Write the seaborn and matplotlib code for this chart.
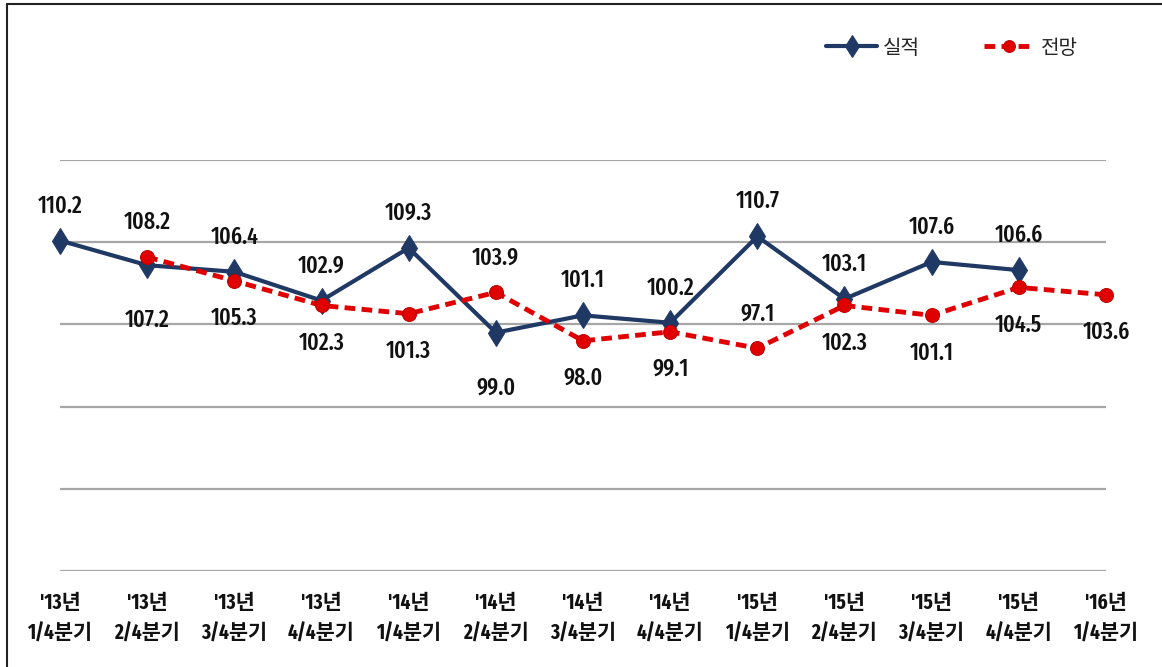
import matplotlib
matplotlib.use('Agg')
import matplotlib.pyplot as plt
from matplotlib.lines import Line2D
import seaborn as sns
import numpy as np
import pandas as pd

# Chart data
years = ["'13년", "'13년", "'13년", "'13년", "'14년", "'14년", "'14년", "'14년",
         "'15년", "'15년", "'15년", "'15년", "'16년"]
quarters = ['1/4분기', '2/4분기', '3/4분기', '4/4분기', '1/4분기', '2/4분기', '3/4분기',
            '4/4분기', '1/4분기', '2/4분기', '3/4분기', '4/4분기', '1/4분기']
actual = [110.2, 107.2, 106.4, 102.9, 109.3, 99.0, 101.1, 100.2, 110.7, 103.1, 107.6, 106.6, np.nan]
forecast = [np.nan, 108.2, 105.3, 102.3, 101.3, 103.9, 98.0, 99.1, 97.1, 102.3, 101.1, 104.5, 103.6]

# which side of the point each value label sits on (1 = above, -1 = below)
actual_side = [1, -1, 1, 1, 1, -1, 1, 1, 1, 1, 1, 1, 0]
forecast_side = [0, 1, -1, -1, -1, 1, -1, -1, 1, -1, -1, -1, -1]

NAVY = '#1f3864'
RED = '#e00000'
NUM_FONT = ['Fira Sans Extra Condensed', 'Noto Sans CJK KR', 'DejaVu Sans']

sns.set_theme(style='white')
plt.rcParams['font.family'] = NUM_FONT

df = pd.DataFrame({'idx': range(len(years)), 'actual': actual, 'forecast': forecast})

fig = plt.figure(figsize=(11.62, 6.67), dpi=100)
ax = fig.add_axes([60 / 1162, 1 - 571 / 667, 1046 / 1162, 411 / 667])

sns.lineplot(data=df, x='idx', y='actual', ax=ax, color=NAVY, linewidth=3,
             marker='d', markersize=13, markeredgecolor=NAVY, label='실적')
sns.lineplot(data=df, x='idx', y='forecast', ax=ax, color=RED, linewidth=3.5,
             linestyle=(0, (2.2, 1.3)), marker='o', markersize=10,
             markeredgecolor='#c00000', label='전망')
for ln in ax.lines:
    ln.set_clip_on(False)

# value labels
def put_labels(values, sides, up, down):
    for i, (v, s) in enumerate(zip(values, sides)):
        if np.isnan(v) or s == 0:
            continue
        off = up if s > 0 else -down
        ax.annotate(f'{v:.1f}', (i, v), xytext=(0, off), textcoords='offset points',
                    ha='center', va='center', fontsize=17, fontweight=500, color='#111111')

put_labels(actual, actual_side, 25, 40)
put_labels(forecast, forecast_side, 25, 27)

ax.set_xlim(0, len(years) - 1)
ax.set_ylim(70, 120)
ax.set_yticks(np.arange(70, 121, 10))
ax.set_yticklabels([])
ax.yaxis.grid(True, color='#a6a6a6', linewidth=1.6)
ax.xaxis.grid(False)
ax.set_xticks(range(len(years)))
ax.set_xticklabels([f'{y}\n{q}' for y, q in zip(years, quarters)],
                   fontsize=15, fontweight='bold', linespacing=1.6, color='#111111')
ax.tick_params(axis='x', length=0, pad=15)
ax.tick_params(axis='y', length=0)
ax.set_xlabel('')
ax.set_ylabel('')
for sp in ax.spines.values():
    sp.set_visible(False)

ax.legend(loc='center', bbox_to_anchor=(952 / 1162, 1 - 48 / 667), bbox_transform=fig.transFigure,
          ncol=2, frameon=False, handlelength=2.5, columnspacing=3.2, markerscale=0.85,
          handletextpad=0.3, prop={'family': ['Noto Sans CJK KR', 'DejaVu Sans'], 'size': 14.5})

# outer frame (left and top edges)
fig.add_artist(Line2D([7 / 1162, 7 / 1162], [0, 1 - 4 / 667], color='#222222', linewidth=1.5))
fig.add_artist(Line2D([7 / 1162, 1], [1 - 4 / 667, 1 - 4 / 667], color='#222222', linewidth=1.5))

fig.savefig('out.png', dpi=100)
